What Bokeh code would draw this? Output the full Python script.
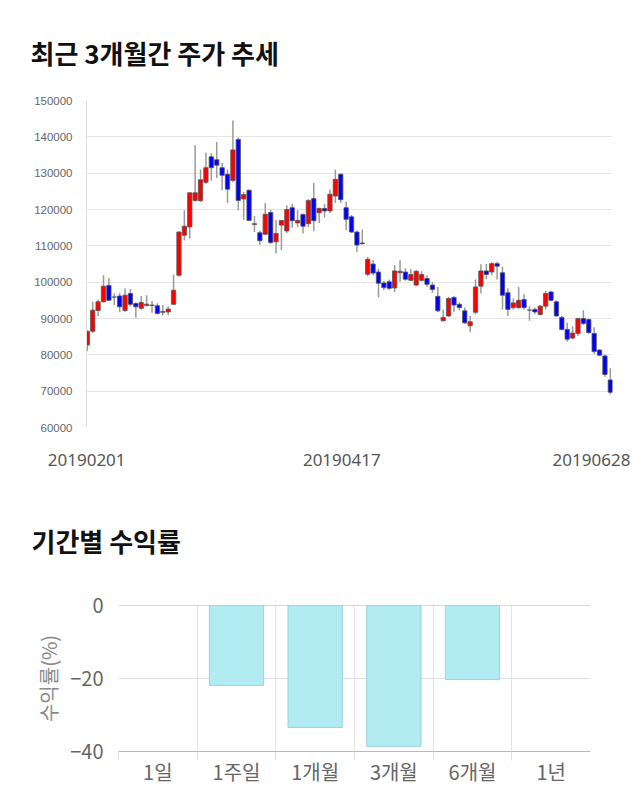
import math
from bokeh.plotting import figure
from bokeh.layouts import column, row
from bokeh.models import Range1d, FixedTicker, ColumnDataSource, BasicTickFormatter, Span, Spacer
from bokeh.embed import file_html
from bokeh.resources import INLINE

# ---------------- data: daily candles (KRW) ----------------
opens = [82700, 86500, 92200, 94600, 99100, 95900, 96200, 92200, 96900, 94100,
         92800, 93600, 93700, 93500, 91900, 91800, 93900, 101900, 112900, 115200,
         122500, 122400, 127500, 134500, 133700, 131500, 129700, 128000, 139300, 122900,
         125300, 115900, 113600, 113200, 119200, 111100, 115700, 114100, 120500, 116300,
         118600, 116100, 123000, 119100, 120300, 119600, 123700, 129700, 120500, 118000,
         113800, 110800, 102200, 105000, 102800, 99800, 100100, 98400, 102600, 102800,
         100500, 99200, 100500, 101000, 99200, 96100, 89400, 90700, 95800, 93900,
         92100, 88000, 91700, 98900, 103100, 102800, 105100, 102600, 97100, 93000,
         93000, 95200, 92300, 92500, 91100, 93400, 97300, 94600, 90300, 87000,
         84600, 85900, 90000, 89700, 85900, 81300, 79700, 73100]
highs = [86700, 94600, 95200, 101900, 101100, 96900, 97000, 98300, 98100, 94500,
         96200, 96400, 94800, 94200, 93700, 93400, 102100, 114000, 119800, 124600,
         137700, 131000, 135600, 135500, 138600, 132800, 131000, 144500, 139800, 124800,
         125500, 118200, 114200, 121800, 120000, 117200, 117000, 121200, 121600, 119800,
         119000, 122800, 127300, 120500, 121500, 125500, 131000, 130000, 122100, 118500,
         114200, 114500, 106900, 106000, 103700, 100300, 100700, 104700, 106000, 103800,
         103600, 103300, 103000, 101900, 100000, 98700, 92500, 96000, 96200, 94500,
         93000, 90700, 100700, 104900, 105000, 105500, 105600, 104200, 98300, 95500,
         98700, 96700, 93400, 93000, 93700, 97600, 97600, 95000, 90700, 88800,
         87900, 90000, 92300, 90000, 87600, 81600, 80100, 76300]
lows = [81000, 86000, 90700, 94400, 94800, 93700, 91700, 91800, 93300, 90200,
        92400, 93300, 91600, 91100, 90800, 90900, 93700, 101500, 111500, 112000,
        122200, 122100, 127000, 127900, 128700, 125300, 121800, 127500, 119800, 117200,
        116900, 113800, 110200, 112900, 110500, 107900, 108800, 113500, 115000, 115100,
        113400, 115200, 114000, 116300, 117800, 119000, 121800, 121800, 114300, 113500,
        108300, 110300, 101600, 101900, 95800, 97800, 97800, 97300, 100100, 100400,
        100300, 98900, 100200, 98700, 97100, 91800, 89100, 90400, 91800, 92300,
        88500, 86300, 91200, 96900, 100800, 101900, 100700, 92500, 90700, 92500,
        92700, 92500, 89400, 91200, 90800, 92500, 94700, 90500, 86700, 83600,
        84300, 85200, 88300, 85800, 80200, 79600, 74000, 69100]
closes = [86500, 92300, 94600, 98900, 95000, 95900, 93200, 96400, 93900, 93200,
          94400, 93950, 93600, 91400, 91700, 92600, 97800, 113800, 115400, 124600,
          124600, 128200, 131500, 131500, 132200, 129400, 125600, 136400, 122500, 124100,
          117000, 116100, 111400, 118700, 110900, 113400, 117000, 120000, 116900, 117000,
          115400, 122500, 116900, 120300, 119600, 124200, 128300, 122700, 117300, 113800,
          110200, 110600, 106300, 102500, 99700, 98500, 98300, 103100, 103000, 100800,
          102100, 103000, 102100, 99400, 98000, 92100, 90300, 95500, 93700, 93000,
          88800, 89100, 98700, 103100, 102100, 105100, 104400, 96400, 92500, 94300,
          95000, 93000, 92300, 91800, 93400, 96900, 95000, 90700, 87000, 84300,
          86000, 90000, 88600, 86100, 80900, 79900, 74600, 69700]
date_labels = ["20190201", "20190417", "20190628"]
price_ticks = [60000, 70000, 80000, 90000, 100000, 110000, 120000, 130000, 140000, 150000]

# ---------------- data: period returns (%) ----------------
periods = ["1일", "1주일", "1개월", "3개월", "6개월", "1년"]
returns = [float("nan"), -21.9, -33.4, -38.6, -20.3, float("nan")]
return_ticks = [0, -20, -40]

KR = "Noto Sans CJK KR"

# ---------------- candlestick chart ----------------
idx = list(range(len(opens)))
body_top = [max(o, c) for o, c in zip(opens, closes)]
body_bot = [min(o, c) for o, c in zip(opens, closes)]
fills = ["#ff0000" if c > o else ("#0000ff" if c < o else "#333333") for o, c in zip(opens, closes)]
src = ColumnDataSource(dict(x=idx, high=highs, low=lows, top=body_top, bottom=body_bot, fill=fills))

p1 = figure(width=640, height=472, x_range=Range1d(-0.15, 97.4), y_range=Range1d(60000, 150000),
            output_backend="svg", toolbar_location=None,
            min_border_left=86, min_border_right=28, min_border_top=100, min_border_bottom=45)
p1.outline_line_color = None
p1.title.text = "최근 3개월간 주가 추세"
p1.title.text_font = KR
p1.title.text_font_size = "26px"
p1.title.text_font_style = "bold"
p1.title.text_color = "#111111"
p1.title.align = "left"
p1.title.offset = -56
p1.title.standoff = 60

p1.segment(x0="x", y0="low", x1="x", y1="high", source=src, line_color="#9a9a9a", line_width=1.5)
p1.vbar(x="x", width=0.8, top="top", bottom="bottom", source=src,
        fill_color="fill", line_color="#555555", line_width=0.8)

p1.yaxis.ticker = FixedTicker(ticks=price_ticks)
p1.yaxis.formatter = BasicTickFormatter(use_scientific=False)
p1.yaxis.major_tick_line_color = None
p1.yaxis.minor_tick_line_color = None
p1.yaxis.axis_line_color = "#dddddd"
p1.yaxis.major_label_text_font = "Liberation Sans"
p1.yaxis.major_label_text_font_size = "11.5px"
p1.yaxis.major_label_text_color = "#666666"
p1.yaxis.major_label_standoff = 8
p1.ygrid.ticker = FixedTicker(ticks=price_ticks)
p1.ygrid.grid_line_color = "#e6e6e6"
p1.xgrid.grid_line_color = None

date_pos = [-0.12, 47.2, 93.5]
p1.xaxis.ticker = FixedTicker(ticks=date_pos)
p1.xaxis.major_label_overrides = {pos: lab for pos, lab in zip(date_pos, date_labels)}
p1.xaxis.major_tick_line_color = None
p1.xaxis.minor_tick_line_color = None
p1.xaxis.axis_line_color = None
p1.xaxis.major_label_text_font = "Noto Sans"
p1.xaxis.major_label_text_font_size = "17px"
p1.xaxis.major_label_text_color = "#555555"
p1.xaxis.major_label_standoff = 20

# ---------------- period returns bar chart ----------------
centers = [i + 0.5 for i in range(len(periods))]
bsrc = ColumnDataSource(dict(x=centers, r=returns))
p2 = figure(width=609, height=338, x_range=Range1d(0, 6), y_range=Range1d(-40, 0),
            output_backend="svg", toolbar_location=None,
            min_border_left=86, min_border_right=50, min_border_top=133, min_border_bottom=59)
p2.outline_line_color = None
p2.title.text = "기간별 수익률"
p2.title.text_font = KR
p2.title.text_font_size = "26px"
p2.title.text_font_style = "bold"
p2.title.text_color = "#111111"
p2.title.align = "left"
p2.title.offset = -87
p2.title.standoff = 93

p2.xgrid.ticker = FixedTicker(ticks=[0, 1, 2, 3, 4, 5])
p2.xgrid.grid_line_color = "#e3e3e3"
p2.ygrid.ticker = FixedTicker(ticks=return_ticks)
p2.ygrid.grid_line_color = "#e0e0e0"

p2.vbar(x="x", width=0.69, top=0, bottom="r", source=bsrc,
        fill_color="#b2ebf2", line_color="#98d3dc", line_width=1)
p2.add_layout(Span(location=0, dimension="width", line_color="#b0b0b0", line_width=1))

p2.xaxis.ticker = FixedTicker(ticks=centers, minor_ticks=[0, 1, 2, 3, 4, 5])
p2.xaxis.major_label_overrides = {c: lab for c, lab in zip(centers, periods)}
p2.xaxis.major_tick_line_color = None
p2.xaxis.minor_tick_line_color = "#e0e0e0"
p2.xaxis.minor_tick_in = 0
p2.xaxis.minor_tick_out = 9
p2.xaxis.axis_line_color = "#b8b8b8"
p2.xaxis.major_label_text_font = KR
p2.xaxis.major_label_text_font_size = "20px"
p2.xaxis.major_label_text_color = "#666666"
p2.xaxis.major_label_standoff = -4

p2.yaxis.ticker = FixedTicker(ticks=return_ticks)
p2.yaxis.major_tick_line_color = None
p2.yaxis.minor_tick_line_color = None
p2.yaxis.axis_line_color = None
p2.yaxis.major_label_text_font = KR
p2.yaxis.major_label_text_font_size = "20px"
p2.yaxis.major_label_text_color = "#666666"
p2.yaxis.major_label_standoff = 9
p2.yaxis.axis_label = "수익률(%)"
p2.yaxis.axis_label_text_font = KR
p2.yaxis.axis_label_text_font_size = "20px"
p2.yaxis.axis_label_text_font_style = "normal"
p2.yaxis.axis_label_text_color = "#888888"
p2.yaxis.axis_label_standoff = 4

layout = column(p1, row(Spacer(width=31, height=338), p2, spacing=0), spacing=0)
open("out.html", "w").write(file_html(layout, INLINE))
